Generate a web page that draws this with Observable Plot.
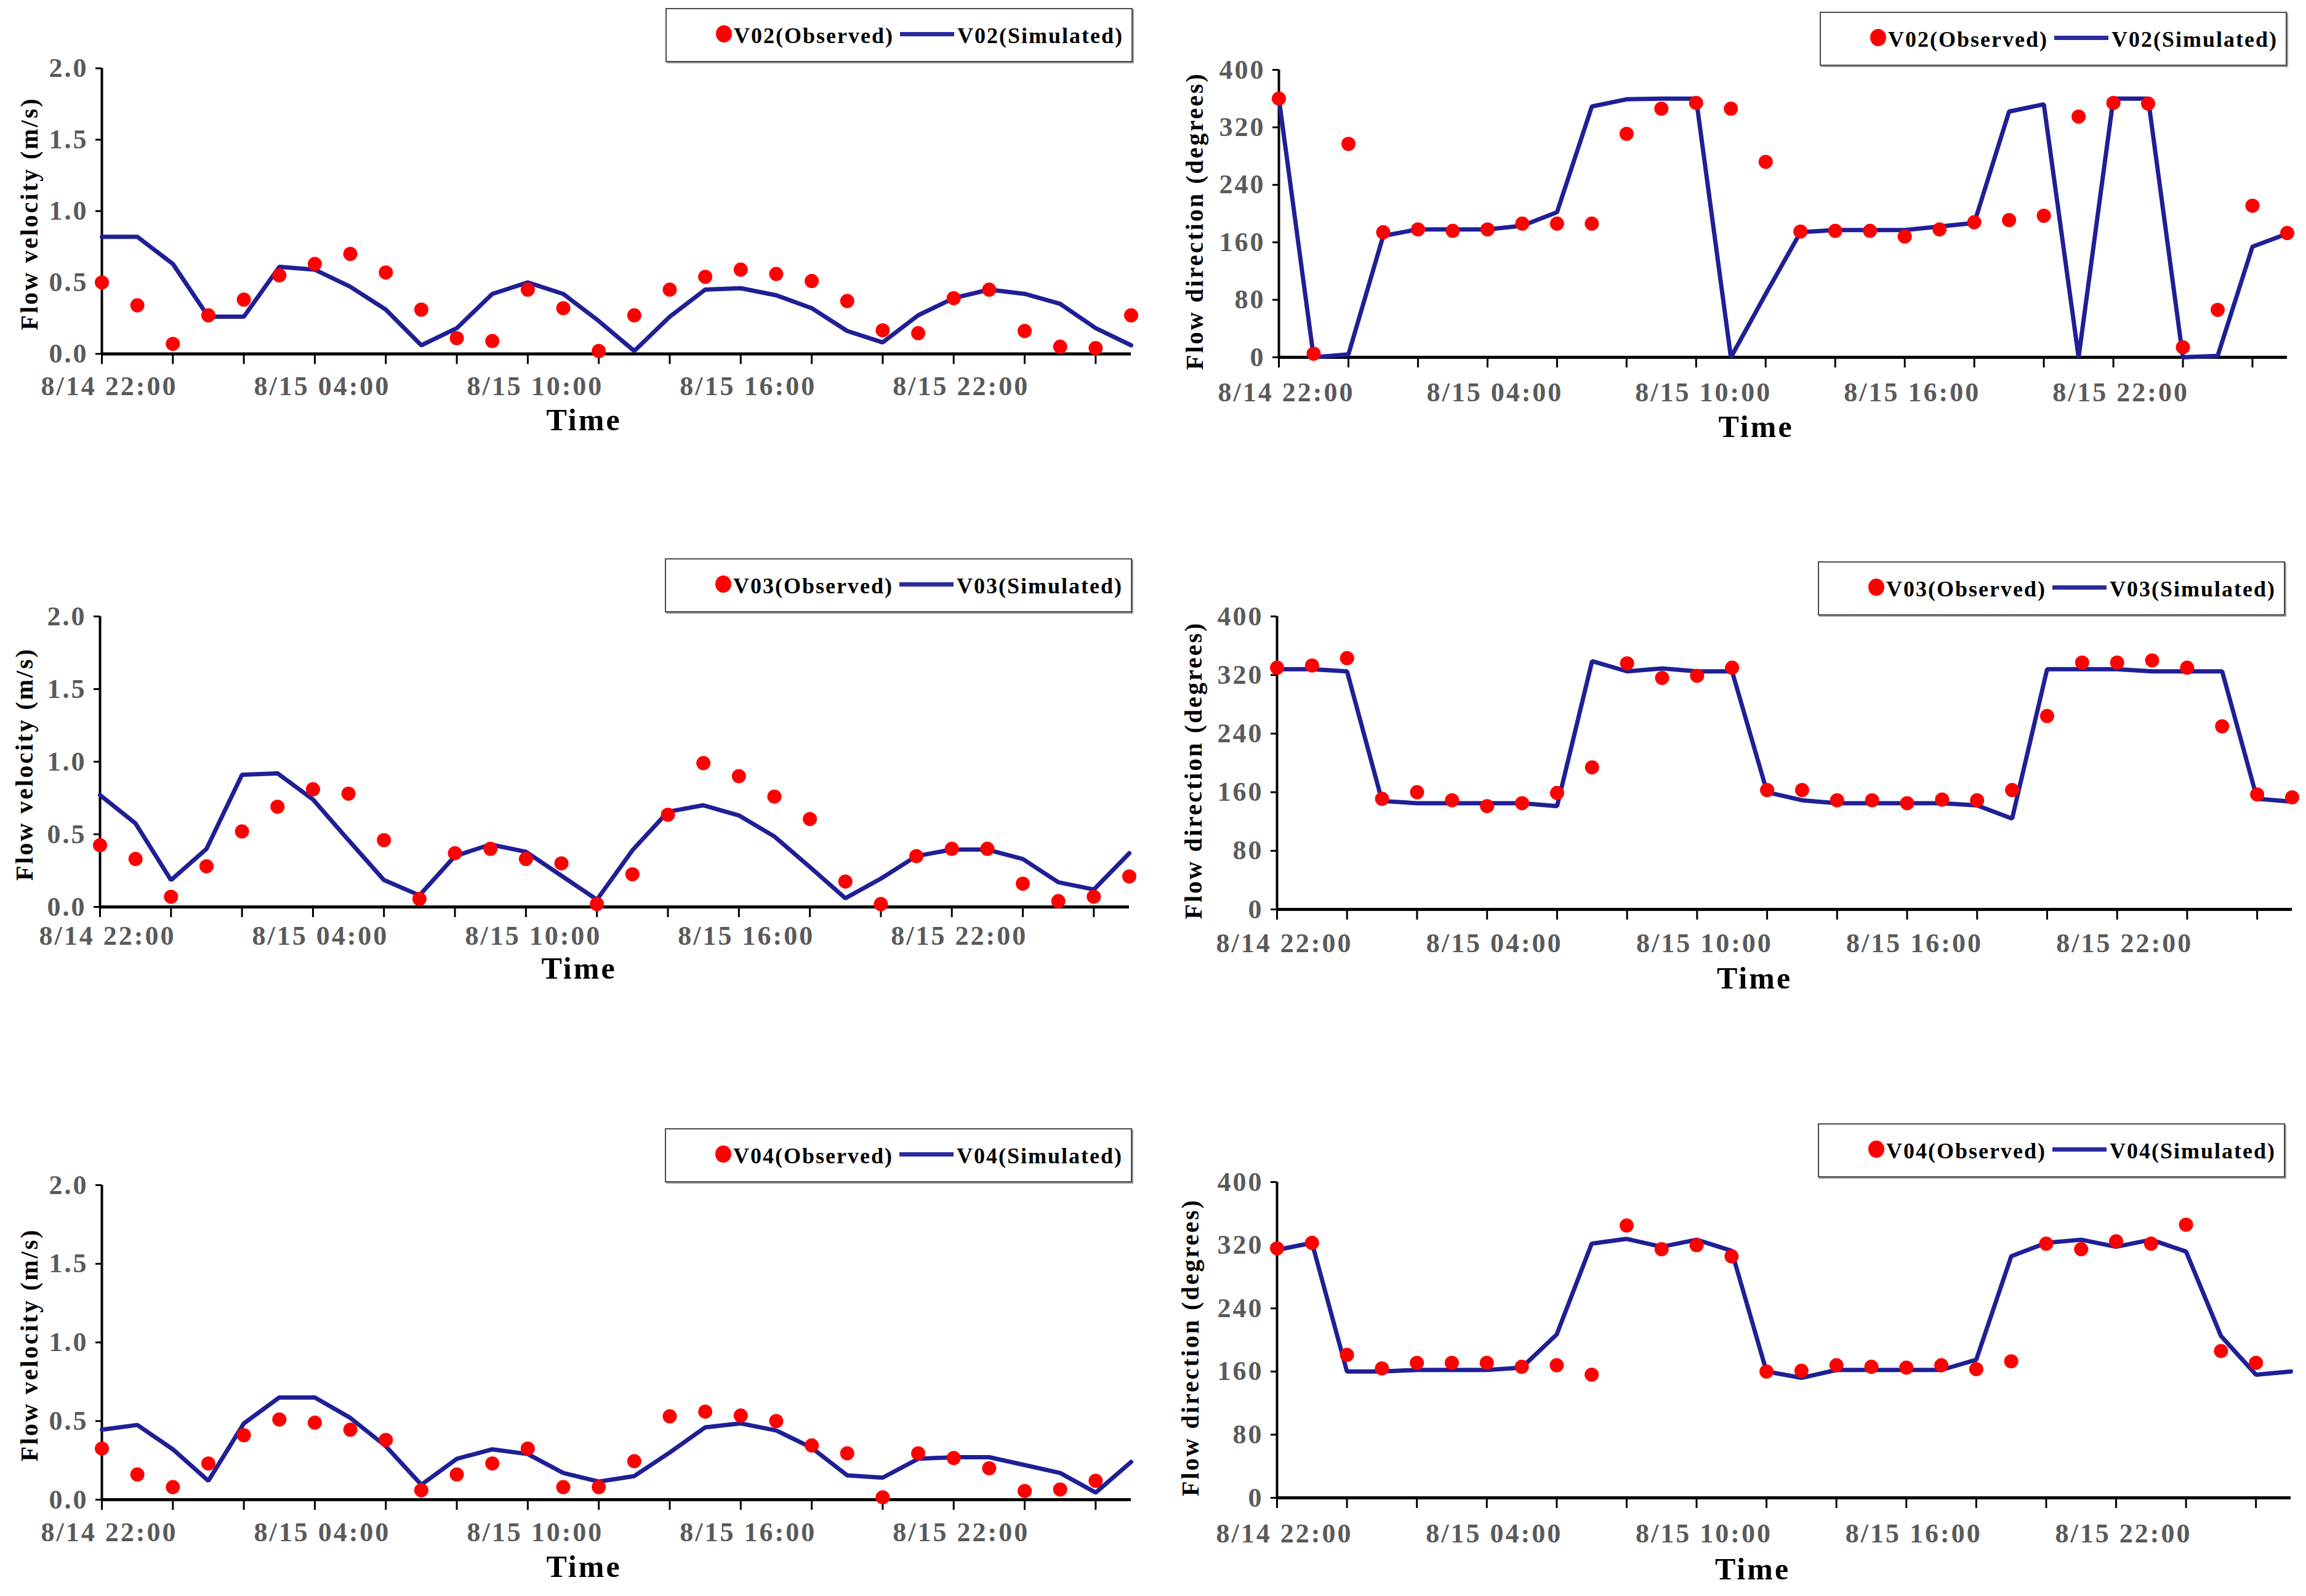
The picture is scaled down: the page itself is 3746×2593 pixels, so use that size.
<!DOCTYPE html>
<html><head><meta charset="utf-8">
<script src="https://cdn.jsdelivr.net/npm/d3@7"></script>
<script src="https://cdn.jsdelivr.net/npm/@observablehq/plot@0.6"></script>
<style>
html,body{margin:0;padding:0;background:#fff;}
#root{position:relative;width:3746px;height:2593px;overflow:hidden;font-family:'Liberation Serif','Times New Roman',serif;background:#fff;}
.panel{position:absolute;}
.panel svg text{letter-spacing:3px;}
.panel svg g[aria-label="ytitle"] text{letter-spacing:2.4px;}
.panel svg g[aria-label="xtitle"] text{letter-spacing:4px;}
.legend{position:absolute;box-sizing:border-box;border:2px solid #4a4a4a;box-shadow:2px 2px 0 #9a9a9a;background:#fff;}
.legend .dot{position:absolute;width:26px;height:28px;border-radius:50%;background:#ff0000;}
.legend .seg{position:absolute;height:7px;background:#2b2b9e;}
.legend .lab{position:absolute;font-size:36px;font-weight:bold;letter-spacing:2px;line-height:36px;white-space:nowrap;color:#000;}
</style></head><body><div id="root"></div>
<script>
// ---- time axis (hourly samples, 8/14 22:00 .. 8/16 03:00) ----
const startTime = Date.UTC(2010, 7, 14, 22);
const hourIndex = d3.range(30);
const times = hourIndex.map(h => new Date(startTime + h * 3600e3));
const xTickIdx = hourIndex.filter(i => i % 2 === 0);
const xLabelIdx = [0, 6, 12, 18, 24];
const xLabels = ["8/14 22:00", "8/15 04:00", "8/15 10:00", "8/15 16:00", "8/15 22:00"];

const velTicks = [0, 0.5, 1.0, 1.5, 2.0];
const dirTicks = [0, 80, 160, 240, 320, 400];

// ---- V02 ----
const v02VelObs = [0.50,0.34,0.07,0.27,0.38,0.55,0.63,0.70,0.57,0.31,0.11,0.09,0.45,0.32,0.02,0.27,0.45,0.54,0.59,0.56,0.51,0.37,0.165,0.145,0.39,0.45,0.16,0.05,0.04,0.27];
const v02VelSim = [0.82,0.82,0.63,0.26,0.26,0.61,0.59,0.47,0.31,0.06,0.18,0.42,0.50,0.42,0.23,0.02,0.26,0.45,0.46,0.41,0.32,0.16,0.08,0.27,0.39,0.45,0.42,0.35,0.18,0.06];
const v02DirObs = [360,5,297,174,178,176,178,186,186,186,311,346,354,346,272,175,176,176,168,178,188,191,197,335,354,353,14,66,211,173];
const v02DirSim = [360,0,4,169,178,178,178,183,202,349,359,360,360,0,88,174,177,177,177,182,187,342,352,0,360,360,0,2,154,172];
// ---- V03 ----
const v03VelObs = [0.425,0.33,0.07,0.28,0.52,0.69,0.81,0.78,0.46,0.055,0.37,0.40,0.33,0.30,0.02,0.225,0.635,0.99,0.90,0.76,0.605,0.175,0.02,0.35,0.40,0.40,0.16,0.04,0.07,0.21];
const v03VelSim = [0.77,0.575,0.185,0.40,0.91,0.92,0.74,0.46,0.185,0.08,0.35,0.43,0.38,0.215,0.05,0.39,0.655,0.70,0.63,0.485,0.275,0.06,0.195,0.35,0.395,0.395,0.33,0.17,0.12,0.37];
const v03DirObs = [330,333,343,151,160,149,141,145,159,194,336,316,319,330,163,163,149,149,145,150,149,163,264,337,337,340,330,250,157,153];
const v03DirSim = [328,328,325,148,145,145,145,145,141,339,325,329,325,325,160,149,145,145,145,145,142,124,328,328,328,325,325,325,151,147];
// ---- V04 ----
const v04VelObs = [0.325,0.16,0.08,0.23,0.41,0.51,0.49,0.445,0.38,0.06,0.16,0.23,0.325,0.08,0.08,0.245,0.53,0.56,0.535,0.50,0.345,0.295,0.015,0.295,0.265,0.20,0.055,0.065,0.12,null];
const v04VelSim = [0.445,0.475,0.32,0.12,0.485,0.65,0.65,0.52,0.34,0.095,0.26,0.32,0.29,0.17,0.115,0.15,0.30,0.46,0.485,0.44,0.33,0.155,0.14,0.26,0.27,0.27,0.22,0.17,0.045,0.24];
const v04DirObs = [316,323,181,164,171,171,171,166,168,156,345,315,320,306,160,161,168,166,165,168,163,173,322,315,325,322,346,186,171,null];
const v04DirSim = [314,323,160,160,162,162,162,165,207,322,328,318,327,313,160,152,162,162,162,162,175,306,323,327,318,327,312,205,156,160];

const FONT = "'Liberation Serif','Times New Roman',serif";
const VEL_LABEL = "Flow velocity (m/s)";
const DIR_LABEL = "Flow direction (degrees)";

const panels = [
  {id:"V02", obs:v02VelObs, sim:v02VelSim, kind:"vel", left:0, top:0, w:1873, h:760, L:165, R:1837, T:110.5, B:574.4, lab:36, tdx:-53, tdy:124, ydx:-117, ydy:4, legend:[1081,13]},
  {id:"V02", obs:v02DirObs, sim:v02DirSim, kind:"dir", left:1873, top:0, w:1873, h:760, L:2077, R:3715, T:113, B:580, lab:40, tdx:-44, tdy:129, ydx:-136, ydy:12, legend:[2956,19]},
  {id:"V03", obs:v03VelObs, sim:v03VelSim, kind:"vel", left:0, top:860, w:1873, h:760, L:162, R:1834, T:1001, B:1473, lab:30, tdx:-58, tdy:116, ydx:-122, ydy:4, legend:[1080,907]},
  {id:"V03", obs:v03DirObs, sim:v03DirSim, kind:"dir", left:1873, top:860, w:1873, h:760, L:2074, R:3723, T:1001, B:1477, lab:38, tdx:-49, tdy:128, ydx:-135, ydy:12, legend:[2953,912]},
  {id:"V04", obs:v04VelObs, sim:v04VelSim, kind:"vel", left:0, top:1780, w:1873, h:813, L:165, R:1837, T:1925, B:2436, lab:36, tdx:-53, tdy:125, ydx:-117, ydy:4, legend:[1080,1833]},
  {id:"V04", obs:v04DirObs, sim:v04DirSim, kind:"dir", left:1873, top:1780, w:1873, h:813, L:2074, R:3721, T:1920, B:2433, lab:41, tdx:-51, tdy:132, ydx:-140, ydy:12, legend:[2953,1825]}
];

const root = document.getElementById("root");

for (const p of panels) {
  const isVel = p.kind === "vel";
  const yTicks = isVel ? velTicks : dirTicks;
  const yFmt = isVel ? d3.format(".1f") : d3.format("d");
  const obsData = times.map((t, i) => ({t, v: p.obs[i]})).filter(d => d.v != null);
  const simData = times.map((t, i) => ({t, v: p.sim[i]}));
  const tickTimes = xTickIdx.map(i => times[i]);
  const labelTimes = xLabelIdx.map(i => times[i]);
  const labelOf = new Map(labelTimes.map((t, k) => [+t, xLabels[k]]));

  const chart = Plot.plot({
    width: p.w, height: p.h,
    marginLeft: p.L - p.left, marginRight: p.left + p.w - p.R,
    marginTop: p.T - p.top, marginBottom: p.top + p.h - p.B,
    style: {fontFamily: FONT, background: "transparent", overflow: "visible"},
    x: {type: "utc", domain: [times[0], times[times.length - 1]]},
    y: {domain: [yTicks[0], yTicks[yTicks.length - 1]]},
    marks: [
      // y tick marks
      Plot.axisY({ticks: yTicks, tickSize: 10, tickFormat: () => "", stroke: "black", strokeWidth: 3, label: null}),
      // y tick labels
      Plot.axisY({ticks: yTicks, tickSize: 0, tickPadding: 22, tickFormat: yFmt, fill: "#5a5a5a", color: "#5a5a5a",
                  fontSize: 44, fontWeight: "bold", label: null}),
      // x tick marks every 2 hours
      Plot.axisX({ticks: tickTimes, tickSize: 17, tickFormat: () => "", stroke: "black", strokeWidth: 3, label: null}),
      // x tick labels every 6 hours
      Plot.axisX({ticks: labelTimes, tickSize: 0, tickPadding: p.lab, tickFormat: d => labelOf.get(+d) || "",
                  fill: "#5a5a5a", color: "#5a5a5a", fontSize: 44, fontWeight: "bold", dx: 12, label: null}),
      // axis lines
      Plot.ruleY([yTicks[0]], {stroke: "black", strokeWidth: 5}),
      Plot.ruleX([times[0]], {stroke: "black", strokeWidth: 4}),
      // simulated line
      Plot.line(simData, {x: "t", y: "v", stroke: "#1f1f96", strokeWidth: 7, strokeLinejoin: "miter"}),
      // observed points
      Plot.dot(obsData, {x: "t", y: "v", r: 11.5, fill: "#ff0000", stroke: null}),
      // axis titles
      Plot.text([isVel ? VEL_LABEL : DIR_LABEL], {text: d => d, frameAnchor: "left", textAnchor: "middle", rotate: -90,
                 dx: p.ydx, dy: p.ydy, fontSize: 40, fontWeight: "bold", fill: "black", ariaLabel: "ytitle"}),
      Plot.text(["Time"], {text: d => d, frameAnchor: "bottom", textAnchor: "middle", dx: p.tdx, dy: p.tdy,
                 fontSize: 50, fontWeight: "bold", fill: "black", ariaLabel: "xtitle"})
    ]
  });

  const div = document.createElement("div");
  div.className = "panel";
  div.style.left = p.left + "px";
  div.style.top = p.top + "px";
  div.appendChild(chart);
  root.appendChild(div);

  // legend box
  const lg = document.createElement("div");
  lg.className = "legend";
  lg.style.left = p.legend[0] + "px";
  lg.style.top = p.legend[1] + "px";
  lg.style.width = "759px";
  lg.style.height = "88px";
  lg.innerHTML =
    `<span class="dot" style="left:80px;top:26px"></span>` +
    `<span class="lab" style="left:109px;top:25px">${p.id}(Observed)</span>` +
    `<span class="seg" style="left:379px;top:37px;width:88px"></span>` +
    `<span class="lab" style="left:472px;top:25px">${p.id}(Simulated)</span>`;
  root.appendChild(lg);
}
</script></body></html>
